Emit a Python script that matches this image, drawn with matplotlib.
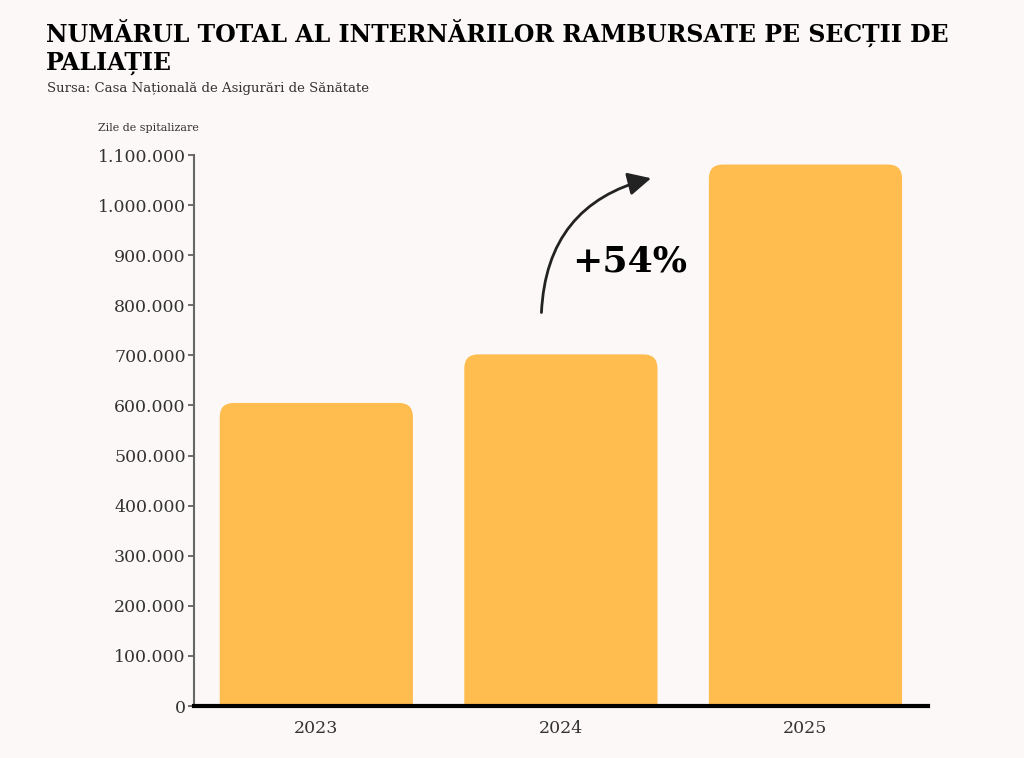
import matplotlib.pyplot as plt
from matplotlib.patches import FancyBboxPatch
from matplotlib.ticker import FuncFormatter

# date
ani = ['2023', '2024', '2025']
zile = [605000, 702000, 1081000]
y_ticks = list(range(0, 1100001, 100000))

titlu = 'NUMĂRUL TOTAL AL INTERNĂRILOR RAMBURSATE PE SECȚII DE\nPALIAȚIE'
sursa = 'Sursa: Casa Națională de Asigurări de Sănătate'
eticheta_y = 'Zile de spitalizare'
crestere = '+54%'

BG = '#fcf8f8'
BAR = '#ffbc4f'
plt.rcParams['font.family'] = ['DejaVu Serif']

fig = plt.figure(figsize=(10.24, 7.58), dpi=100, facecolor=BG)
ax = fig.add_axes([0.1895, 0.0686, 0.7165, 0.7269], facecolor=BG)

x = list(range(len(ani)))
bars = ax.bar(x, zile, width=0.79, color=BAR)
ax.set_xlim(-0.5, 2.5)
ax.set_ylim(0, 1100000)

# colturi rotunjite sus
fig.canvas.draw()
px_x = ax.transData.transform((1, 0))[0] - ax.transData.transform((0, 0))[0]
px_y = ax.transData.transform((0, 1))[1] - ax.transData.transform((0, 0))[1]
aspect = px_x / px_y
r = 14 / px_x
for b in bars:
    b.set_visible(False)
    bx, bw, bh = b.get_x(), b.get_width(), b.get_height()
    p = FancyBboxPatch((bx, -r * aspect * 2), bw, bh + r * aspect * 2,
                       boxstyle=f'round,pad=0,rounding_size={r}',
                       mutation_aspect=aspect, fc=BAR, ec='none', zorder=2)
    ax.add_patch(p)

ax.set_yticks(y_ticks)
ax.yaxis.set_major_formatter(FuncFormatter(lambda v, _: f'{int(v):,}'.replace(',', '.')))
ax.set_xticks(x)
ax.set_xticklabels(ani)
ax.tick_params(axis='y', length=4, width=1.2, color='#555555', labelsize=12.5,
               labelcolor='#333333', pad=2)
ax.tick_params(axis='x', length=0, labelsize=12.5, labelcolor='#333333', pad=10)
for s in ['top', 'right']:
    ax.spines[s].set_visible(False)
ax.spines['left'].set_color('#666666')
ax.spines['left'].set_linewidth(1.5)
ax.spines['bottom'].set_color('black')
ax.spines['bottom'].set_linewidth(3)
ax.spines['bottom'].set_zorder(5)

# sageata si procent
ax.annotate('', xy=(1.38, 1055000), xytext=(0.92, 780000),
            arrowprops=dict(arrowstyle='-|>,head_length=1.4,head_width=0.7',
                            connectionstyle='arc3,rad=-0.38', color='#222222', lw=2))
ax.text(1.28, 922000, crestere, fontsize=26, fontweight='bold', ha='center',
        va='top', color='black')

fig.text(0.045, 0.975, titlu, fontsize=17, fontweight='bold', va='top',
         ha='left', linespacing=1.15)
fig.text(0.046, 0.892, sursa, fontsize=9.5, color='#333333', va='top')
fig.text(0.096, 0.838, eticheta_y, fontsize=8, color='#333333', va='top')

fig.savefig('out.png', dpi=100, facecolor=BG)
